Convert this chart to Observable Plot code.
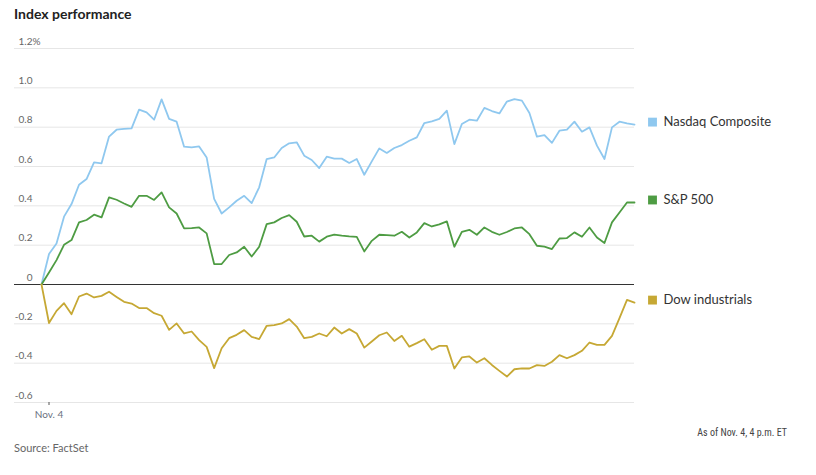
<!DOCTYPE html>
<html>
<head>
<meta charset="utf-8">
<script src="https://cdn.jsdelivr.net/npm/d3@7"></script>
<script src="https://cdn.jsdelivr.net/npm/@observablehq/plot@0.6"></script>
<style>
  html, body { margin: 0; padding: 0; background: #fff; }
  #wrap { position: relative; width: 816px; height: 475px; font-family: Lato, "Noto Sans", sans-serif; }
  #title { position: absolute; left: 14px; top: 4px; font-size: 14px; line-height: 20px; font-weight: 700; color: #222; }
  #chart { position: absolute; left: 0; top: 28px; }
  #asof { position: absolute; right: 29px; top: 426px; font-family: "Liberation Sans Narrow", "Roboto Condensed", Roboto, sans-serif; font-size: 10px; line-height: 13px; color: #444; }
  #source { position: absolute; left: 14px; top: 441px; font-size: 11px; line-height: 14px; color: #666; }
</style>
</head>
<body>
<div id="wrap">
  <div id="title">Index performance</div>
  <div id="chart"></div>
  <div id="asof">As of Nov. 4, 4 p.m. ET</div>
  <div id="source">Source: FactSet</div>
</div>
<script>
// ---- Data (percent change since open, 5-minute steps) ----
const nasdaq = [
  0, 0.155, 0.209, 0.345, 0.409, 0.507, 0.536, 0.621, 0.616, 0.752,
  0.787, 0.791, 0.794, 0.889, 0.875, 0.838, 0.941, 0.842, 0.828, 0.701,
  0.697, 0.702, 0.646, 0.435, 0.361, 0.392, 0.426, 0.451, 0.414, 0.494,
  0.638, 0.646, 0.694, 0.718, 0.723, 0.655, 0.633, 0.592, 0.650, 0.640,
  0.640, 0.618, 0.638, 0.558, 0.626, 0.692, 0.669, 0.694, 0.709, 0.731,
  0.748, 0.821, 0.830, 0.842, 0.884, 0.714, 0.816, 0.838, 0.833, 0.898,
  0.882, 0.870, 0.930, 0.943, 0.935, 0.872, 0.752, 0.760, 0.720, 0.782,
  0.787, 0.828, 0.777, 0.799, 0.706, 0.638, 0.799, 0.828, 0.819, 0.813
];
const sp500 = [
  0, 0.061, 0.124, 0.202, 0.226, 0.316, 0.328, 0.355, 0.341, 0.443,
  0.431, 0.412, 0.395, 0.451, 0.451, 0.430, 0.468, 0.392, 0.361, 0.285,
  0.287, 0.290, 0.260, 0.104, 0.104, 0.150, 0.163, 0.192, 0.142, 0.192,
  0.307, 0.316, 0.338, 0.353, 0.319, 0.244, 0.248, 0.218, 0.243, 0.254,
  0.249, 0.245, 0.242, 0.168, 0.222, 0.253, 0.251, 0.248, 0.268, 0.239,
  0.265, 0.312, 0.295, 0.306, 0.321, 0.192, 0.268, 0.278, 0.253, 0.290,
  0.268, 0.253, 0.267, 0.285, 0.290, 0.256, 0.197, 0.193, 0.180, 0.234,
  0.236, 0.265, 0.243, 0.290, 0.239, 0.211, 0.316, 0.366, 0.417, 0.417
];
const dow = [
  0, -0.196, -0.134, -0.095, -0.151, -0.061, -0.046, -0.066, -0.058, -0.037,
  -0.063, -0.088, -0.097, -0.120, -0.120, -0.146, -0.159, -0.231, -0.198, -0.249,
  -0.239, -0.283, -0.317, -0.425, -0.324, -0.273, -0.256, -0.232, -0.266, -0.278,
  -0.210, -0.207, -0.198, -0.176, -0.214, -0.273, -0.266, -0.249, -0.263, -0.219,
  -0.249, -0.227, -0.249, -0.321, -0.290, -0.258, -0.244, -0.287, -0.261, -0.316,
  -0.298, -0.278, -0.332, -0.312, -0.312, -0.427, -0.371, -0.366, -0.397, -0.375,
  -0.409, -0.439, -0.468, -0.431, -0.427, -0.427, -0.410, -0.414, -0.393, -0.359,
  -0.375, -0.359, -0.337, -0.295, -0.307, -0.307, -0.261, -0.171, -0.078, -0.092
];
const seriesNames = ["Nasdaq Composite", "S&P 500", "Dow industrials"];
const seriesColors = ["#8fc8ef", "#4e9c43", "#c6a834"];
const yTicks = [-0.6, -0.4, -0.2, 0, 0.2, 0.4, 0.6, 0.8, 1.0, 1.2];
const xTickValues = [1];
const xTickLabels = ["Nov. 4"];

// ---- Build table ----
const seriesValues = [nasdaq, sp500, dow];
const rows = [];
seriesValues.forEach((vals, s) => vals.forEach((v, i) => rows.push({i, v, series: seriesNames[s], color: seriesColors[s]})));
const lastRows = seriesValues.map((vals, s) => ({i: vals.length - 1, v: vals[vals.length - 1], series: seriesNames[s], color: seriesColors[s]}));
const yMax = d3.max(yTicks);

const fmtY = d => d === 0 ? "0" : (d < 0 ? "-" : "") + Math.abs(d).toFixed(1);

const chart = Plot.plot({
  width: 816,
  height: 404,
  marginLeft: 14,
  marginRight: 182,
  marginTop: 20,
  marginBottom: 30,
  insetLeft: 27,
  style: {fontFamily: "Lato, 'Noto Sans', sans-serif", background: "transparent"},
  x: {domain: [0, nasdaq.length - 1]},
  y: {domain: [d3.min(yTicks), yMax]},
  marks: [
    Plot.ruleY(yTicks.filter(d => d !== 0), {stroke: "#e6e6e6", strokeWidth: 1}),
    Plot.axisY({ticks: yTicks, tickSize: 0, tickPadding: 0, dx: 18, dy: -7, textAnchor: "end", tickFormat: fmtY, fontSize: 10, fill: "#666", label: null}),
    Plot.text([yMax], {y: d => d, text: () => "%", frameAnchor: "left", dx: 18, dy: -7, textAnchor: "start", fontSize: 10, fill: "#666"}),
    Plot.axisX({ticks: xTickValues, tickFormat: (d, k) => xTickLabels[k], tickSize: 3, tickPadding: 5, fontSize: 10, stroke: "#555", fill: "#6a7080", label: null}),
    Plot.ruleY([0], {stroke: "#333", strokeWidth: 1}),
    Plot.line(rows, {x: "i", y: "v", z: "series", stroke: "color", strokeWidth: 1.8, strokeLinejoin: "round"}),
    Plot.dot(lastRows, {x: "i", y: "v", symbol: "square", r: 5, fill: "color", stroke: null, dx: 18, dy: -2.5}),
    Plot.text(lastRows, {x: "i", y: "v", text: "series", dx: 29, dy: -2.5, textAnchor: "start", fontSize: 13, fill: "#333"})
  ]
});
document.getElementById("chart").appendChild(chart);
</script>
</body>
</html>
